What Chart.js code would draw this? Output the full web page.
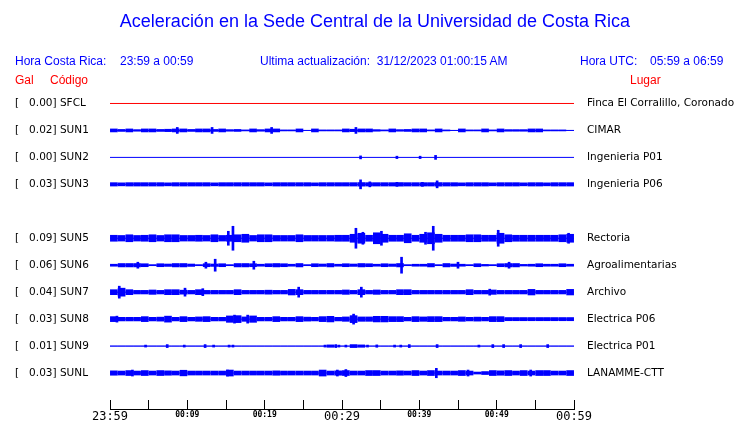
<!DOCTYPE html>
<html>
<head>
<meta charset="utf-8">
<script src="https://cdn.jsdelivr.net/npm/chart.js@4"></script>
<style>
body { margin: 0; background: #fff; }
#wrap { position: relative; width: 740px; height: 423px; }
#wrap canvas { position: absolute; left: 0; top: 0; }
.t { position: absolute; font-family: "Liberation Sans", Arial, sans-serif; font-size: 12px; line-height: 14px; color: #0000ff; white-space: pre; }
.r { color: #ff0000; }
</style>
</head>
<body>
<div id="wrap">
<canvas id="chart1" width="740" height="423"></canvas>
<div class="t" style="left:0;width:750px;text-align:center;top:10px;font-size:18px;line-height:22px">Aceleración en la Sede Central de la Universidad de Costa Rica</div>
<div class="t" style="left:15px;top:54px">Hora Costa Rica:</div>
<div class="t" style="left:120px;top:54px">23:59 a 00:59</div>
<div class="t" style="left:260px;top:54px">Ultima actualización:  31/12/2023 01:00:15 AM</div>
<div class="t" style="left:580px;top:54px">Hora UTC:</div>
<div class="t" style="left:650px;top:54px">05:59 a 06:59</div>
<div class="t r" style="left:15px;top:73px">Gal</div>
<div class="t r" style="left:50px;top:73px">Código</div>
<div class="t r" style="left:630px;top:73px">Lugar</div>
</div>
<script>
// stations, top to bottom
const codes = ["SFCL", "SUN1", "SUN2", "SUN3", "SUN5", "SUN6", "SUN7", "SUN8", "SUN9", "SUNL"];
const gal = ["0.00", "0.02", "0.00", "0.03", "0.09", "0.06", "0.04", "0.03", "0.01", "0.03"];
const places = ["Finca El Corralillo, Coronado", "CIMAR", "Ingenieria P01", "Ingenieria P06",
    "Rectoria", "Agroalimentarias", "Archivo", "Electrica P06", "Electrica P01", "LANAMME-CTT"];
const timeLabels = ["23:59", "00:09", "00:19", "00:29", "00:39", "00:49", "00:59"];

// trace envelope, one value per minute (half height as drawn)
const envSFCL = [];
const envSUN1 = [1.5, 1.0, 1.5, 0.8, 1.5, 1.5, 1.0, 1.2, 1.5, 1.5,
    1.0, 1.5, 1.5, 1.0, 1.5, 0.8, 1.0, 0.5, 1.5, 0.8,
    1.5, 1.5, 0.5, 0.5, 1.5, 0, 1.5, 0.5, 0.5, 0.5,
    1.5, 1.2, 1.5, 1.5, 0.8, 0.5, 1.5, 0.8, 1.0, 1.5,
    1.5, 0.5, 1.5, 0.5, 0, 1.5, 0.5, 0.5, 1.5, 0.5,
    1.5, 0.8, 0.8, 0.8, 1.5, 1.5, 0.5, 0.5, 0.5, 0];
const envSUN2 = [];
const envSUN3 = [1.7, 1.5, 1.7, 1.7, 1.7, 1.7, 1.7, 1.5, 1.7, 1.7,
    1.7, 1.7, 1.7, 1.5, 1.7, 1.7, 1.7, 1.7, 1.7, 1.7,
    1.5, 1.7, 1.7, 1.7, 1.7, 1.7, 1.5, 1.7, 1.7, 1.7,
    1.7, 1.7, 1.8, 1.7, 1.7, 1.7, 1.7, 1.8, 1.7, 1.7,
    1.7, 1.7, 1.8, 1.7, 1.7, 1.5, 1.7, 1.7, 1.7, 1.5,
    1.7, 1.7, 1.7, 1.5, 1.7, 1.7, 1.5, 1.7, 1.7, 1.7];
const envSUN5 = [3, 2.8, 3.5, 2.8, 3, 3.5, 2.8, 3.5, 3.5, 2.8,
    2.8, 3, 2.8, 3.5, 2.8, 3, 3.5, 4, 2.8, 3.5,
    3.5, 2.8, 2.8, 2.8, 3.5, 2.8, 2.8, 2.8, 2.8, 3,
    3, 4, 5, 3, 5.5, 4, 3, 3, 4.5, 3,
    4, 5.5, 4, 3, 3, 3, 3.5, 3.5, 3, 3,
    5, 3.5, 3, 3, 3, 3, 3, 3, 3.5, 4];
const envSUN6 = [1, 1.7, 1.7, 1.7, 1.5, 0.5, 1.5, 1.2, 1.7, 1.7,
    1.2, 0.5, 1.5, 1.2, 1.5, 0.5, 1.7, 1.7, 1.5, 1,
    1.5, 1.7, 1.5, 1, 1.7, 0.5, 1.5, 1.2, 1.7, 1,
    1.5, 1.2, 1.7, 1.5, 1, 1.5, 1.2, 1.7, 0.5, 1,
    1, 1.7, 0.5, 1.7, 1.2, 1, 0.5, 1.5, 0.8, 0.5,
    1.5, 1.7, 1.7, 0.8, 1, 1.5, 1, 1, 1.5, 1];
const envSUN7 = [2.5, 4, 2.5, 1.8, 1.8, 2.2, 1.8, 2.5, 2.5, 2,
    1.8, 2.5, 1.8, 1.8, 1.8, 1.8, 2.5, 1.8, 1.8, 1.8,
    2, 1.8, 1.8, 2.8, 2.5, 1.8, 1.8, 1.8, 1.8, 1.8,
    2.2, 1.8, 2.5, 1.8, 2.2, 1.8, 1.8, 2.5, 2.5, 1.8,
    1.8, 1.8, 1.8, 1.8, 1.8, 1.8, 2.5, 1.8, 1.8, 2.2,
    1.8, 1.8, 1.8, 1.8, 2.8, 1.8, 1.8, 1.8, 1.8, 2.8];
const envSUN8 = [2.5, 1.8, 1.8, 1.8, 2.5, 1.8, 2, 3, 1.8, 2.5,
    1.8, 2.2, 2.5, 1.8, 1.8, 3.2, 3.5, 2.2, 3.2, 1.8,
    1.8, 2.5, 1.8, 1.8, 2.5, 2, 1.8, 2.5, 2.8, 1.8,
    2.2, 3.5, 2.2, 2.2, 2.8, 2.8, 2.5, 2.5, 1.8, 2.5,
    2.2, 2.5, 2.5, 1.8, 1.8, 2.2, 1.8, 2, 1.8, 2.5,
    2.5, 1.6, 1.6, 1.6, 1.6, 1.6, 1.6, 1.6, 1.6, 1.6];
const envSUN9 = [0, 0, 0, 0, 0, 0, 0, 0, 0, 0,
    0, 0, 0, 0, 0, 0, 0, 0, 0, 0,
    0, 0, 0, 0, 0, 0, 0, 0, 1.2, 0,
    0, 1.5, 1.2, 0, 0, 0, 0, 0, 0, 0,
    0, 0, 0, 0, 0, 0, 0, 0, 0, 0,
    0, 0, 0, 0, 0, 0, 0, 0, 0, 0];
const envSUNL = [2.2, 2, 2.5, 2, 2.5, 2, 2.5, 2.2, 2, 2.8,
    2, 2, 2, 2, 2, 3, 2, 2, 2, 2,
    2, 2.2, 2, 2, 2, 2, 2, 3, 2, 2.2,
    2.5, 2, 2, 2.5, 2.5, 2, 2, 2.2, 2, 2.5,
    2, 2.5, 2, 2, 2, 2.5, 2, 1, 1.5, 2.5,
    2.2, 2.5, 2, 2.5, 2, 2.5, 2.5, 2, 2, 2.5];

// single spikes: [minute, half height]
const peakSFCL = [];
const peakSUN1 = [[8.7, 3], [13.2, 3], [20.9, 3], [31.8, 3]];
const peakSUN2 = [[32.4, 1.5], [37.1, 1.2], [40.1, 1.2], [42.1, 2]];
const peakSUN3 = [[32.4, 4.5], [33.6, 2.5], [37.1, 2], [40.4, 2], [42.3, 3.5]];
const peakSUN5 = [[15.3, 7], [15.9, 12], [31.8, 10], [32.7, 6], [35.1, 7], [40.8, 6], [41.8, 12], [50.2, 8], [59.3, 5]];
const peakSUN6 = [[3.6, 3], [12.4, 3], [13.6, 6], [18.6, 4], [37.7, 8], [45, 3], [51.6, 3]];
const peakSUN7 = [[1.2, 6], [9.7, 4], [12, 3.5], [24.4, 5], [32.5, 5], [49.1, 3]];
const peakSUN8 = [[0.9, 3], [16.1, 4], [17.8, 4], [31.5, 5]];
const peakSUN9 = [[4.6, 1], [7.4, 1.5], [9.6, 1], [12.3, 1.5], [13.4, 1], [15.4, 1], [15.9, 1],
    [27.8, 1], [29.2, 1.5], [29.6, 1], [30.5, 1], [33.3, 1], [34.5, 1.2], [36.8, 1], [37.6, 1],
    [38.7, 1.5], [42.3, 1.5], [47.7, 1], [49.5, 1.5], [50.9, 1.5], [53.1, 1.5], [56.6, 1.5]];
const peakSUNL = [[2.9, 3], [15.2, 3], [29.4, 3], [30.5, 3.5], [42.2, 4.7], [46.3, 3], [54.4, 3]];

const envelopes = [envSFCL, envSUN1, envSUN2, envSUN3, envSUN5, envSUN6, envSUN7, envSUN8, envSUN9, envSUNL];
const peaks = [peakSFCL, peakSUN1, peakSUN2, peakSUN3, peakSUN5, peakSUN6, peakSUN7, peakSUN8, peakSUN9, peakSUNL];

// row slot of each station (SUN4 slot is left empty)
const slots = [0, 1, 2, 3, 5, 6, 7, 8, 9, 10];
const ROW = 27;

let datasets = [];
codes.forEach((code, i) => {
    const c = slots[i];
    const color = code === "SFCL" ? "#ff0000" : "#0000ff";
    datasets.push({
        type: "line",
        data: [{x: 0, y: c}, {x: 60, y: c}],
        borderColor: color,
        borderWidth: 1,
        pointRadius: 0
    });
    datasets.push({
        type: "bar",
        data: envelopes[i].map((a, k) => ({x: k + 0.5, y: [c - a / ROW, c + a / ROW]})),
        backgroundColor: color,
        barThickness: 7,
        grouped: false
    });
    datasets.push({
        type: "bar",
        data: peaks[i].map(p => ({x: p[0], y: [c - p[1] / ROW, c + p[1] / ROW]})),
        backgroundColor: color,
        barThickness: 2,
        grouped: false
    });
});

const axisLine = {
    id: "axisLine",
    afterDraw(chart) {
        const s = chart.scales.x;
        const ctx = chart.ctx;
        const y = Math.round(s.top + s.options.grid.tickLength) + 0.5;
        ctx.save();
        ctx.strokeStyle = "#000";
        ctx.lineWidth = 1;
        ctx.beginPath();
        ctx.moveTo(s.left, y);
        ctx.lineTo(s.right + 1, y);
        ctx.stroke();
        ctx.restore();
    }
};

new Chart("chart1", {
    type: "bar",
    data: {datasets: datasets},
    plugins: [axisLine],
    options: {
        responsive: false,
        animation: false,
        events: [],
        layout: {padding: {left: 15, top: 90, right: 0, bottom: 0}},
        plugins: {legend: {display: false}, tooltip: {enabled: false}},
        scales: {
            x: {
                type: "linear",
                min: 0,
                max: 60,
                offset: false,
                afterFit: s => { s.height = 23; },
                grid: {display: true, offset: false, drawOnChartArea: false, drawTicks: true, tickLength: 9, color: "#000"},
                border: {display: false},
                ticks: {
                    stepSize: 5,
                    autoSkip: false,
                    maxRotation: 0,
                    padding: 1,
                    color: "#000",
                    font: ctx => (ctx.tick && ctx.tick.value % 30 === 0)
                        ? {family: "DejaVu Sans Mono", size: 12}
                        : {family: "DejaVu Sans Mono", size: 8, weight: "bold"},
                    callback: v => v % 10 === 0 ? timeLabels[v / 10] : ""
                }
            },
            y: {
                type: "linear",
                position: "left",
                min: -0.5,
                max: 11,
                reverse: true,
                afterFit: s => { s.width = 95; },
                afterBuildTicks: s => { s.ticks = slots.map(v => ({value: v})); },
                grid: {display: false},
                border: {display: false},
                ticks: {
                    autoSkip: false,
                    crossAlign: "far",
                    color: "#000",
                    font: {family: "DejaVu Sans", size: 10.5},
                    callback: v => {
                        const i = slots.indexOf(v);
                        return i < 0 ? "" : "[   " + gal[i] + "] " + codes[i];
                    }
                }
            },
            y2: {
                type: "linear",
                position: "right",
                min: -0.5,
                max: 11,
                reverse: true,
                afterFit: s => { s.width = 166; },
                afterBuildTicks: s => { s.ticks = slots.map(v => ({value: v})); },
                grid: {display: false},
                border: {display: false},
                ticks: {
                    autoSkip: false,
                    padding: 5,
                    color: "#000",
                    font: {family: "DejaVu Sans", size: 10.5},
                    callback: v => {
                        const i = slots.indexOf(v);
                        return i < 0 ? "" : places[i];
                    }
                }
            }
        }
    }
});
</script>
</body>
</html>
